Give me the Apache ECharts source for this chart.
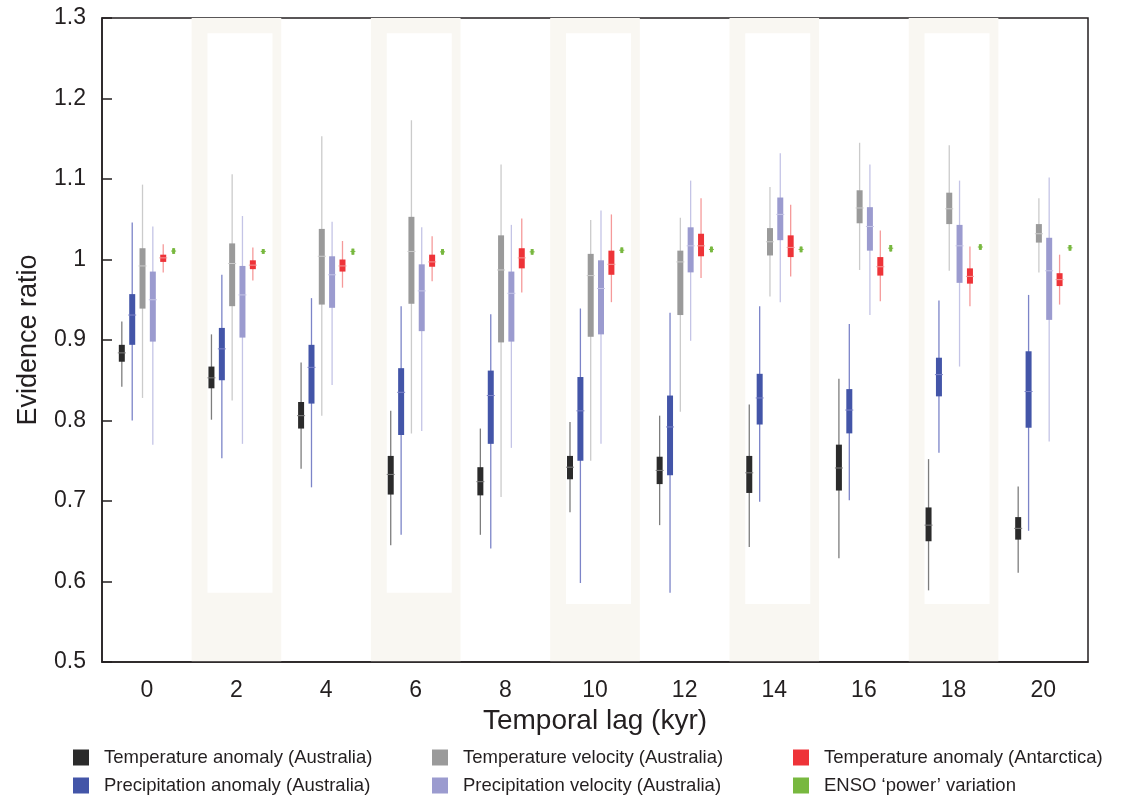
<!DOCTYPE html>
<html>
<head>
<meta charset="utf-8">
<title>Evidence ratio vs temporal lag</title>
<script src="https://cdn.jsdelivr.net/npm/echarts@6/dist/echarts.min.js"></script>
<style>
  html, body { margin: 0; padding: 0; background: #fff; }
  #chart { width: 1132px; height: 798px; }
</style>
</head>
<body>
<div id="chart"></div>
<script>
// temporal lag (kyr)
var lags = ['0', '2', '4', '6', '8', '10', '12', '14', '16', '18', '20'];

// each row: [low whisker, q1, median, q3, high whisker]
var tempAnomAus = [
  [0.842, 0.873, 0.884, 0.894, 0.923],
  [0.801, 0.840, 0.853, 0.867, 0.907],
  [0.740, 0.790, 0.806, 0.823, 0.872],
  [0.645, 0.708, 0.733, 0.756, 0.812],
  [0.658, 0.707, 0.724, 0.742, 0.790],
  [0.686, 0.727, 0.742, 0.756, 0.798],
  [0.670, 0.721, 0.738, 0.755, 0.806],
  [0.643, 0.710, 0.735, 0.756, 0.820],
  [0.629, 0.713, 0.741, 0.770, 0.852],
  [0.589, 0.650, 0.670, 0.692, 0.752],
  [0.611, 0.652, 0.666, 0.680, 0.718]
];
var precipAnomAus = [
  [0.800, 0.894, 0.931, 0.957, 1.046],
  [0.753, 0.850, 0.889, 0.915, 0.981],
  [0.717, 0.821, 0.866, 0.894, 0.952],
  [0.658, 0.782, 0.835, 0.865, 0.942],
  [0.641, 0.771, 0.831, 0.862, 0.932],
  [0.598, 0.750, 0.812, 0.854, 0.939],
  [0.586, 0.732, 0.792, 0.831, 0.934],
  [0.699, 0.795, 0.828, 0.858, 0.942],
  [0.701, 0.784, 0.813, 0.839, 0.920],
  [0.760, 0.830, 0.857, 0.878, 0.949],
  [0.663, 0.791, 0.836, 0.886, 0.956]
];
var tempVelAus = [
  [0.828, 0.939, 0.992, 1.014, 1.093],
  [0.825, 0.942, 0.995, 1.020, 1.106],
  [0.806, 0.944, 1.004, 1.038, 1.153],
  [0.784, 0.945, 1.010, 1.053, 1.173],
  [0.705, 0.897, 0.987, 1.030, 1.118],
  [0.750, 0.904, 0.980, 1.007, 1.049],
  [0.811, 0.931, 0.997, 1.011, 1.052],
  [0.954, 1.005, 1.022, 1.039, 1.090],
  [0.987, 1.045, 1.064, 1.086, 1.145],
  [0.986, 1.044, 1.063, 1.083, 1.142],
  [0.984, 1.021, 1.032, 1.044, 1.076]
];
var precipVelAus = [
  [0.770, 0.898, 0.950, 0.985, 1.041],
  [0.771, 0.903, 0.956, 0.992, 1.054],
  [0.844, 0.940, 0.981, 1.004, 1.047],
  [0.787, 0.911, 0.961, 0.994, 1.040],
  [0.766, 0.898, 0.958, 0.985, 1.043],
  [0.771, 0.907, 0.964, 0.999, 1.061],
  [0.899, 0.984, 1.017, 1.040, 1.098],
  [0.947, 1.024, 1.056, 1.077, 1.132],
  [0.931, 1.011, 1.041, 1.065, 1.118],
  [0.867, 0.971, 1.017, 1.043, 1.098],
  [0.774, 0.925, 0.986, 1.027, 1.102]
];
var tempAnomAnt = [
  [0.984, 0.997, 1.002, 1.006, 1.019],
  [0.974, 0.988, 0.993, 0.999, 1.015],
  [0.965, 0.985, 0.992, 1.000, 1.023],
  [0.973, 0.991, 0.997, 1.006, 1.029],
  [0.959, 0.989, 1.002, 1.014, 1.051],
  [0.947, 0.981, 0.994, 1.011, 1.056],
  [0.977, 1.004, 1.017, 1.032, 1.076],
  [0.979, 1.003, 1.015, 1.030, 1.068],
  [0.948, 0.980, 0.991, 1.003, 1.036],
  [0.942, 0.970, 0.979, 0.989, 1.016],
  [0.944, 0.967, 0.975, 0.983, 1.006]
];
var ensoPower = [
  [1.007, 1.007, 1.0105, 1.014, 1.014],
  [1.007, 1.007, 1.010, 1.013, 1.013],
  [1.006, 1.006, 1.010, 1.0135, 1.0135],
  [1.006, 1.006, 1.0095, 1.013, 1.013],
  [1.006, 1.006, 1.0095, 1.013, 1.013],
  [1.008, 1.008, 1.0115, 1.015, 1.015],
  [1.009, 1.009, 1.0125, 1.016, 1.016],
  [1.009, 1.009, 1.0125, 1.016, 1.016],
  [1.010, 1.010, 1.014, 1.018, 1.018],
  [1.012, 1.012, 1.0155, 1.019, 1.019],
  [1.011, 1.011, 1.0145, 1.018, 1.018]
];

var seriesNames = [
  'Temperature anomaly (Australia)',
  'Precipitation anomaly (Australia)',
  'Temperature velocity (Australia)',
  'Precipitation velocity (Australia)',
  'Temperature anomaly (Antarctica)',
  'ENSO \u2018power\u2019 variation'
];
var seriesData = [tempAnomAus, precipAnomAus, tempVelAus, precipVelAus, tempAnomAnt, ensoPower];
var boxColors = ['#2b2b2b', '#4355a8', '#9a9a9a', '#9b9bcf', '#ee3338', '#78b83f'];
var whiskerColors = ['#7d7d7d', '#7c84c8', '#cbcbcb', '#c4c4e6', '#f59a9a', '#78b83f'];
var boxOffsets = [-25, -14.6, -4.3, 6, 16.4, 26.8];
var boxWidths = [6, 6, 6, 6, 6, 3];

// legend placement: 3 columns x 2 rows
var legendLeft = [73, 73, 432, 432, 793, 793];
var legendTop = [748, 776, 748, 776, 748, 776];

// shaded lag bands (category index) and where the inner white panel stops
var bandIndex = [1, 3, 5, 7, 9];
var bandInnerBottom = [0.586, 0.586, 0.572, 0.572, 0.572];

var myChart = echarts.init(document.getElementById('chart'));

function boxRenderer(k) {
  return function (params, api) {
    var cat = api.value(0);
    var lo = api.coord([cat, api.value(1)]);
    var q1 = api.coord([cat, api.value(2)]);
    var md = api.coord([cat, api.value(3)]);
    var q3 = api.coord([cat, api.value(4)]);
    var hi = api.coord([cat, api.value(5)]);
    var x = lo[0] + boxOffsets[k];
    var w = boxWidths[k];
    return {
      type: 'group',
      children: [
        { type: 'line', shape: { x1: x, y1: hi[1], x2: x, y2: lo[1] },
          style: { stroke: whiskerColors[k], lineWidth: 1.3 } },
        { type: 'rect', shape: { x: x - w / 2, y: q3[1], width: w, height: Math.max(q1[1] - q3[1], 1) },
          style: { fill: boxColors[k] } },
        { type: 'line', shape: { x1: x - w / 2 - 1, y1: md[1], x2: x + w / 2 + 1, y2: md[1] },
          style: { stroke: whiskerColors[k], lineWidth: 1 } }
      ]
    };
  };
}

var series = [{
  name: 'bands',
  type: 'custom',
  silent: true,
  z: 0,
  data: bandIndex.map(function (c, i) { return [c, bandInnerBottom[i]]; }),
  encode: { x: 0, y: 1 },
  renderItem: function (params, api) {
    var cat = api.value(0);
    var top = api.coord([cat, 1.3]);
    var bot = api.coord([cat, 0.5]);
    var innerTop = api.coord([cat, 1.281]);
    var innerBot = api.coord([cat, api.value(1)]);
    var bw = api.size([1, 0])[0];
    return {
      type: 'group',
      children: [
        { type: 'rect', shape: { x: top[0] - bw / 2, y: top[1], width: bw, height: bot[1] - top[1] },
          style: { fill: '#f9f7f2' } },
        { type: 'rect', shape: { x: top[0] - 29, y: innerTop[1], width: 65, height: innerBot[1] - innerTop[1] },
          style: { fill: '#ffffff' } }
      ]
    };
  }
}];

seriesNames.forEach(function (name, k) {
  series.push({
    name: name,
    type: 'custom',
    z: 2,
    itemStyle: { color: boxColors[k] },
    data: seriesData[k].map(function (row, i) { return [i].concat(row); }),
    encode: { x: 0, y: [1, 2, 3, 4, 5] },
    renderItem: boxRenderer(k)
  });
});

var legends = seriesNames.map(function (name, k) {
  return {
    left: legendLeft[k],
    top: legendTop[k],
    padding: 0,
    itemWidth: 16,
    itemHeight: 16,
    icon: 'rect',
    selectedMode: false,
    data: [name],
    textStyle: { fontFamily: 'Liberation Sans', fontSize: 18.5, color: '#231f20', padding: [0, 0, 0, 10] }
  };
});

myChart.setOption({
  animation: false,
  backgroundColor: '#fff',
  grid: {
    left: 102, right: 44, top: 18, bottom: 136,
    show: true, borderColor: '#231f20', borderWidth: 1.5, backgroundColor: 'transparent'
  },
  legend: legends,
  xAxis: {
    type: 'category',
    data: lags,
    name: 'Temporal lag (kyr)',
    nameLocation: 'middle',
    nameGap: 44,
    nameTextStyle: { fontFamily: 'Liberation Sans', fontSize: 28, color: '#231f20' },
    axisLine: { lineStyle: { color: '#231f20', width: 1.5 } },
    axisTick: { inside: true, length: 6, alignWithLabel: true, lineStyle: { color: '#231f20', width: 1.5 } },
    axisLabel: { fontFamily: 'Liberation Sans', fontSize: 23, color: '#231f20', margin: 17 },
    splitLine: { show: false }
  },
  yAxis: {
    type: 'value',
    min: 0.5,
    max: 1.3,
    interval: 0.1,
    name: 'Evidence ratio',
    nameLocation: 'middle',
    nameGap: 60,
    nameTextStyle: { fontFamily: 'Liberation Sans', fontSize: 27, color: '#231f20' },
    axisLine: { show: true, lineStyle: { color: '#231f20', width: 1.5 } },
    axisTick: { show: true, inside: true, length: 10, lineStyle: { color: '#231f20', width: 1.5 } },
    axisLabel: { fontFamily: 'Liberation Sans', fontSize: 23, color: '#231f20', margin: 16 },
    splitLine: { show: false }
  },
  series: series
});
</script>
</body>
</html>
